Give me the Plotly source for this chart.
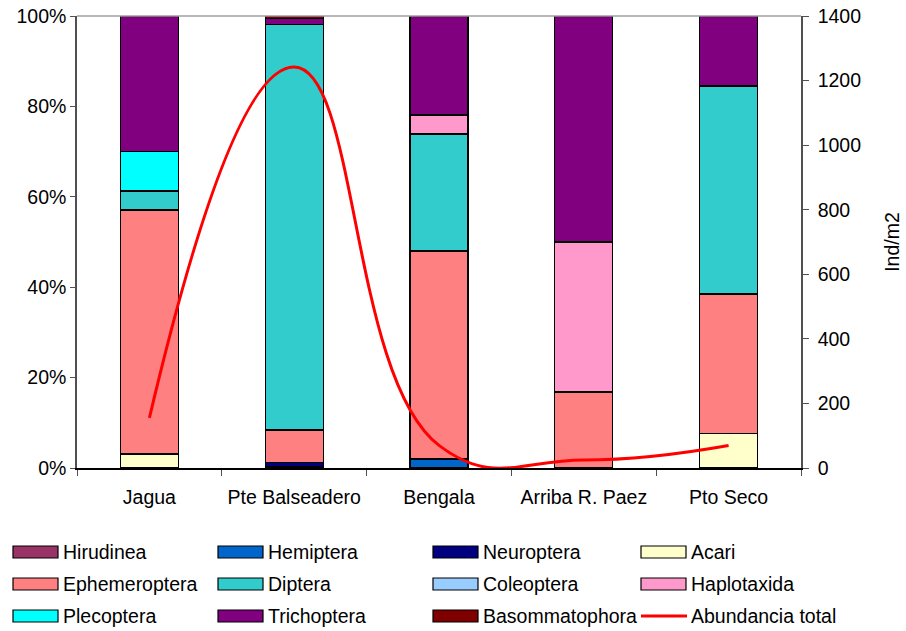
import plotly.graph_objects as go

# Sampling sites
sites = ["Jagua", "Pte Balseadero", "Bengala", "Arriba R. Paez", "Pto Seco"]

# Relative composition (%) per taxon at each site
hirudinea      = [0.0, 0.4, 0.0, 0.0, 0.0]
hemiptera      = [0.0, 0.0, 2.0, 0.0, 0.0]
neuroptera     = [0.0, 0.9, 0.0, 0.0, 0.0]
acari          = [3.1, 0.0, 0.0, 0.0, 7.7]
ephemeroptera  = [54.0, 7.1, 46.0, 16.8, 30.8]
diptera        = [4.2, 89.8, 25.9, 0.0, 46.0]
coleoptera     = [0.0, 0.0, 0.0, 0.0, 0.0]
haplotaxida    = [0.0, 0.0, 4.2, 33.2, 0.0]
plecoptera     = [8.8, 0.0, 0.0, 0.0, 0.0]
trichoptera    = [29.9, 1.3, 21.9, 50.0, 15.5]
basommatophora = [0.0, 0.5, 0.0, 0.0, 0.0]

# Total abundance (Ind/m2)
abundancia_total = [155, 1242, 70, 25, 70]

taxa = [
    ("Hirudinea", hirudinea, "#993366"),
    ("Hemiptera", hemiptera, "#0066CC"),
    ("Neuroptera", neuroptera, "#000080"),
    ("Acari", acari, "#FFFFCC"),
    ("Ephemeroptera", ephemeroptera, "#FF8080"),
    ("Diptera", diptera, "#33CCCC"),
    ("Coleoptera", coleoptera, "#99CCFF"),
    ("Haplotaxida", haplotaxida, "#FF99CC"),
    ("Plecoptera", plecoptera, "#00FFFF"),
    ("Trichoptera", trichoptera, "#800080"),
    ("Basommatophora", basommatophora, "#800000"),
]
LINE_COLOR = "#FF0000"
FONT = "Liberation Sans, Arial, sans-serif"
FS = 19.5

W, H = 906, 631
L, R, T, B = 77, 105, 16, 163
PW, PH = W - L - R, H - T - B

fig = go.Figure()
for name, vals, color in taxa:
    # empty segments are skipped so they leave no outline at the base
    fig.add_trace(go.Bar(
        x=sites, y=[v if v else None for v in vals], name=name, width=0.4,
        marker=dict(color=color, line=dict(color="#000000", width=1.2)),
        showlegend=False,
    ))

fig.add_trace(go.Scatter(
    x=sites, y=abundancia_total, name="Abundancia total", yaxis="y2",
    mode="lines", line=dict(color=LINE_COLOR, width=3, shape="spline", smoothing=1.3),
    showlegend=False,
))


def px_x(px):
    return (px - L) / PW


def px_y(py):
    return (H - B - py) / PH


shapes = [
    # light frame line along the top of the plot area
    dict(type="line", xref="paper", yref="paper", x0=0, x1=1, y0=1, y1=1,
         line=dict(color="#A0A0A0", width=1.5)),
]
annotations = []

# Legend laid out as a 4-column grid below the chart
legend_items = [(n, c) for n, _, c in taxa] + [("Abundancia total", LINE_COLOR)]
col_x = [13, 218, 433, 641]
row_y = [552, 584, 616]
for i, (name, color) in enumerate(legend_items):
    r, c = divmod(i, 4)
    x0 = col_x[c]
    yc = row_y[r]
    if name == "Abundancia total":
        shapes.append(dict(type="line", xref="paper", yref="paper",
                           x0=px_x(x0), x1=px_x(x0 + 46), y0=px_y(yc), y1=px_y(yc),
                           line=dict(color=color, width=3)))
    else:
        shapes.append(dict(type="rect", xref="paper", yref="paper",
                           x0=px_x(x0), x1=px_x(x0 + 45), y0=px_y(yc - 6), y1=px_y(yc + 6),
                           fillcolor=color, line=dict(color="#000000", width=1.2)))
    annotations.append(dict(text=name, xref="paper", yref="paper",
                            x=px_x(x0 + 48), y=px_y(yc), xanchor="left", yanchor="middle",
                            showarrow=False, font=dict(family=FONT, size=FS, color="#000000")))

fig.update_layout(
    width=W, height=H,
    margin=dict(l=L, r=R, t=T, b=B, pad=0, autoexpand=False),
    paper_bgcolor="white", plot_bgcolor="white",
    barmode="stack", bargap=0.6,
    font=dict(family=FONT, size=FS, color="#000000"),
    showlegend=False,
    xaxis=dict(
        type="category", showline=True, linecolor="#000000", linewidth=1.5,
        ticks="outside", tickson="boundaries", ticklen=6, tickcolor="#505050",
        tickfont=dict(family=FONT, size=FS), showgrid=False, zeroline=False,
        automargin=False, ticklabelstandoff=11,
    ),
    yaxis=dict(
        range=[0, 100], dtick=20, ticksuffix="%", showline=True,
        linecolor="#505050", linewidth=1.5, ticks="outside", ticklen=5,
        tickcolor="#505050", showgrid=False, zeroline=False,
        tickfont=dict(family=FONT, size=FS), automargin=False,
    ),
    yaxis2=dict(
        range=[0, 1400], dtick=200, overlaying="y", side="right",
        showline=True, linecolor="#505050", linewidth=1.5, ticks="outside",
        ticklen=6, tickcolor="#505050", showgrid=False, zeroline=False,
        tickfont=dict(family=FONT, size=FS), automargin=False, ticklabelstandoff=5,
        title=dict(text="Ind/m2", font=dict(family=FONT, size=FS), standoff=25),
    ),
    shapes=shapes,
    annotations=annotations,
)

fig.write_html("out.html")
